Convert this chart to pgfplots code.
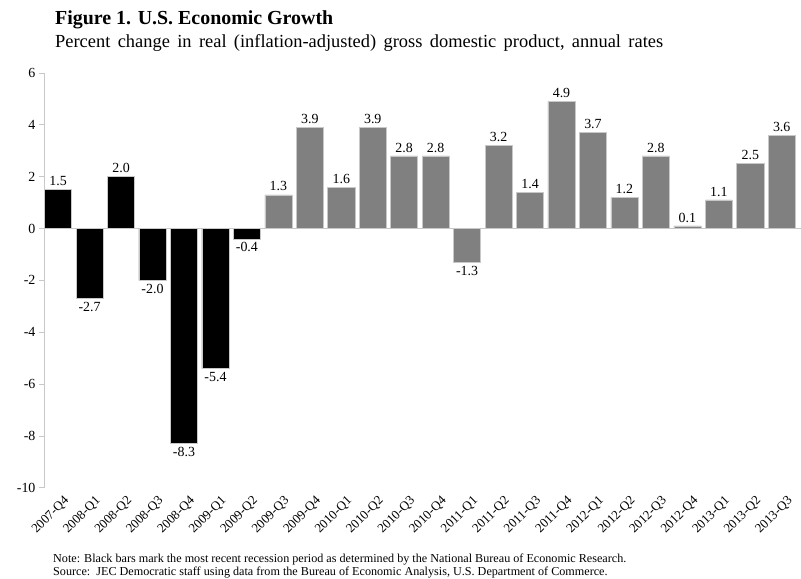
\documentclass[border=0pt]{standalone}
\usepackage{pgfplots}
\pgfplotsset{compat=1.18}
\usepackage{fontspec}
\setmainfont{Liberation Serif}
\definecolor{recess}{RGB}{0,0,0}
\definecolor{expand}{RGB}{128,128,128}
\definecolor{axisgray}{RGB}{200,200,200}

\begin{document}
\begin{tikzpicture}
\begin{axis}[
    scale only axis,
    width=757bp,
    height=415bp,
    xmin=-0.45, xmax=23.6,
    ymin=-10, ymax=6,
    ybar, bar shift=0pt, bar width=0.86,
    axis x line*=bottom,
    x axis line style={draw=none},
    xtick={0,...,23},
    xticklabels={2007-Q4,2008-Q1,2008-Q2,2008-Q3,2008-Q4,2009-Q1,2009-Q2,2009-Q3,2009-Q4,2010-Q1,2010-Q2,2010-Q3,2010-Q4,2011-Q1,2011-Q2,2011-Q3,2011-Q4,2012-Q1,2012-Q2,2012-Q3,2012-Q4,2013-Q1,2013-Q2,2013-Q3},
    xtick style={draw=none},
    xticklabel style={rotate=45, anchor=north east, inner sep=1bp, xshift=3bp, yshift=-4bp,
      font=\fontsize{13}{15}\selectfont},
    axis y line*=left,
    y axis line style={axisgray, line width=0.8pt},
    ytick={-10,-8,...,6},
    ytick style={axisgray, line width=0.8pt},
    tick align=outside,
    major tick length=5bp,
    yticklabel style={font=\fontsize{14}{16}\selectfont, /pgf/number format/assume math mode=true},
    extra y ticks={0},
    extra y tick labels={},
    extra y tick style={grid=major, major grid style={axisgray, line width=0.8pt}},
    nodes near coords,
    nodes near coords align=vertical,
    every node near coord/.append style={font=\fontsize{14}{16}\selectfont, black,
      /pgf/number format/.cd, fixed, fixed zerofill, precision=1, assume math mode=true},
    clip=false,
]
\addplot[fill=recess, draw=axisgray, line width=0.6pt] coordinates {
(0,1.5) (1,-2.7) (2,2.0) (3,-2.0) (4,-8.3) (5,-5.4) (6,-0.4)};
\addplot[fill=expand, draw=axisgray, line width=0.6pt] coordinates {
(7,1.3) (8,3.9) (9,1.6) (10,3.9) (11,2.8) (12,2.8) (13,-1.3) (14,3.2)
(15,1.4) (16,4.9) (17,3.7) (18,1.2) (19,2.8) (20,0.1) (21,1.1) (22,2.5) (23,3.6)};
\end{axis}
\node[anchor=base west, inner sep=0pt, font=\fontsize{20}{24}\selectfont\bfseries]
  at (11bp,463bp) {Figure 1. U.S. Economic Growth};
\node[anchor=base west, inner sep=0pt, font=\fontsize{18.5}{22}\selectfont, text width=640bp, align=left]
  at (11bp,440bp) {\spaceskip=0.4em plus 0.1em\relax Percent change in real (inflation-adjusted) gross domestic product, annual rates};
\node[anchor=base west, inner sep=0pt, font=\fontsize{12.2}{14}\selectfont]
  at (9bp,-75bp) {Note: Black bars mark the most recent recession period as determined by the National Bureau of Economic Research.};
\node[anchor=base west, inner sep=0pt, font=\fontsize{12.2}{14}\selectfont]
  at (9bp,-88bp) {Source:\ \ JEC Democratic staff using data from the Bureau of Economic Analysis, U.S. Department of Commerce.};
\path[use as bounding box] (-44bp,-91bp) rectangle (757bp,488bp);
\end{tikzpicture}
\end{document}
